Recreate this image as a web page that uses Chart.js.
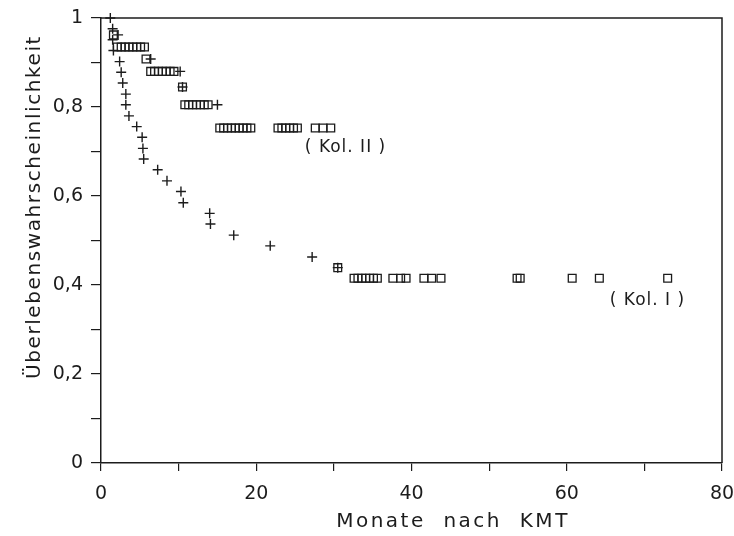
<!DOCTYPE html>
<html>
<head>
<meta charset="utf-8">
<script src="https://cdn.jsdelivr.net/npm/chart.js@4.4.1/dist/chart.umd.min.js"></script>
<style>
  html, body { margin: 0; padding: 0; background: #fff; }
</style>
</head>
<body>
<canvas id="chart" width="734" height="536"></canvas>
<script>
// Kol. I - deaths (+), survival in steps of 1/41
const kol1EventMonths = [1.5, 1.5, 1.6, 2.4, 2.6, 2.8, 3.2, 3.2, 3.6, 4.6, 5.3, 5.4, 5.5,
  7.3, 8.5, 10.3, 10.6, 14.0, 14.1, 17.1, 21.8, 27.2, 30.5];
const kol1EventSurv = [0.976, 0.951, 0.927, 0.902, 0.878, 0.854, 0.829, 0.805, 0.780, 0.756,
  0.732, 0.707, 0.683, 0.659, 0.634, 0.610, 0.585, 0.561, 0.537, 0.512, 0.488, 0.463, 0.439];

// Kol. I - censored (squares)
const kol1CensMonths = [30.5, 32.6, 33.1, 33.6, 34.1, 34.6, 35.1, 35.6, 37.6, 38.6, 39.3,
  41.6, 42.6, 43.8, 53.6, 54.0, 60.7, 64.2, 73.0];
const kol1CensSurv = [0.439, 0.415, 0.415, 0.415, 0.415, 0.415, 0.415, 0.415, 0.415, 0.415, 0.415,
  0.415, 0.415, 0.415, 0.415, 0.415, 0.415, 0.415, 0.415];

// Kol. II - deaths (+)
const kol2EventMonths = [1.2, 2.2, 6.4, 10.2, 10.5, 15.0];
const kol2EventSurv = [1.0, 0.962, 0.908, 0.880, 0.845, 0.805];

// Kol. II - censored (squares)
const kol2CensMonths = [1.6, 2.1, 2.6, 3.1, 3.6, 4.1, 4.6, 5.1, 5.6, 5.8,
  6.4, 6.9, 7.4, 7.9, 8.4, 8.9, 9.4, 10.5,
  10.8, 11.3, 11.8, 12.3, 12.8, 13.3, 13.8,
  15.3, 15.8, 16.3, 16.8, 17.3, 17.8, 18.3, 18.8, 19.3,
  22.8, 23.3, 23.8, 24.3, 24.8, 25.3, 27.6, 28.6, 29.6];
const kol2CensSurv = [0.962, 0.935, 0.935, 0.935, 0.935, 0.935, 0.935, 0.935, 0.935, 0.908,
  0.880, 0.880, 0.880, 0.880, 0.880, 0.880, 0.880, 0.845,
  0.805, 0.805, 0.805, 0.805, 0.805, 0.805, 0.805,
  0.753, 0.753, 0.753, 0.753, 0.753, 0.753, 0.753, 0.753, 0.753,
  0.753, 0.753, 0.753, 0.753, 0.753, 0.753, 0.753, 0.753, 0.753];

const xTickLabels = ['0', '20', '40', '60', '80'];
const yTickLabels = ['0', '0,2', '0,4', '0,6', '0,8', '1'];

const ink = '#1c1c1c';
const fontFamily = '"DejaVu Sans", sans-serif';

function toPoints(xs, ys) {
  return xs.map((x, i) => ({ x: x, y: ys[i] }));
}

function plusSet(label, xs, ys) {
  return {
    label: label,
    data: toPoints(xs, ys),
    pointStyle: 'cross',
    pointRadius: 5,
    borderColor: ink,
    borderWidth: 1.4,
    clip: false
  };
}

function squareSet(label, xs, ys) {
  return {
    label: label,
    data: toPoints(xs, ys),
    pointStyle: 'rect',
    pointRadius: 5.5,
    backgroundColor: 'rgba(0,0,0,0)',
    borderColor: ink,
    borderWidth: 1.3,
    clip: false
  };
}

// frame on top/right, axis titles and the two group labels
const extrasPlugin = {
  id: 'extras',
  afterDraw(chart) {
    const { ctx, chartArea: a, scales } = chart;
    ctx.save();
    ctx.strokeStyle = ink;
    ctx.lineWidth = 1.5;
    ctx.beginPath();
    ctx.moveTo(a.left, a.top);
    ctx.lineTo(a.right, a.top);
    ctx.lineTo(a.right, a.bottom);
    ctx.stroke();

    ctx.fillStyle = ink;
    ctx.textAlign = 'center';
    ctx.textBaseline = 'middle';
    ctx.font = '20px ' + fontFamily;
    ctx.letterSpacing = '2.5px';
    ctx.fillText('Monate  nach  KMT', 453, 522);

    ctx.save();
    ctx.translate(35, 207);
    ctx.rotate(-Math.PI / 2);
    ctx.letterSpacing = '1.6px';
    ctx.fillText('Überlebenswahrscheinlichkeit', 0, 0);
    ctx.restore();

    ctx.font = '17px ' + fontFamily;
    ctx.letterSpacing = '1px';
    ctx.fillText('( Kol. II )', scales.x.getPixelForValue(31.5), scales.y.getPixelForValue(0.708));
    ctx.fillText('( Kol. I )', scales.x.getPixelForValue(70.4), scales.y.getPixelForValue(0.366));
    ctx.restore();
  }
};

const ctx = document.getElementById('chart').getContext('2d');
const chart = new Chart(ctx, {
  type: 'scatter',
  data: {
    datasets: [
      plusSet('Kol. I', kol1EventMonths, kol1EventSurv),
      squareSet('Kol. I zensiert', kol1CensMonths, kol1CensSurv),
      plusSet('Kol. II', kol2EventMonths, kol2EventSurv),
      squareSet('Kol. II zensiert', kol2CensMonths, kol2CensSurv)
    ]
  },
  options: {
    responsive: false,
    animation: false,
    layout: { padding: { top: 18, right: 12, left: 0, bottom: 0 } },
    plugins: {
      legend: { display: false },
      tooltip: { enabled: false }
    },
    scales: {
      x: {
        min: 0,
        max: 80,
        afterFit: s => { s.height = 73; s.paddingLeft = 0; s.paddingRight = 0; },
        border: { color: ink, width: 1.5 },
        grid: { drawOnChartArea: false, drawTicks: true, tickLength: 8, color: ink, lineWidth: 1.2 },
        ticks: {
          stepSize: 10,
          padding: 12,
          color: ink,
          maxRotation: 0,
          font: { family: fontFamily, size: 19 },
          callback: (v, i) => (i % 2 === 0 ? xTickLabels[i / 2] : '')
        }
      },
      y: {
        min: 0,
        max: 1,
        afterFit: s => { s.width = 101; s.paddingTop = 0; s.paddingBottom = 0; },
        border: { color: ink, width: 1.5 },
        grid: { drawOnChartArea: false, drawTicks: true, tickLength: 10, color: ink, lineWidth: 1.2 },
        ticks: {
          stepSize: 0.1,
          padding: 8,
          color: ink,
          font: { family: fontFamily, size: 19 },
          callback: (v, i) => (i % 2 === 0 ? yTickLabels[i / 2] : '')
        }
      }
    }
  },
  plugins: [extrasPlugin]
});
</script>
</body>
</html>
